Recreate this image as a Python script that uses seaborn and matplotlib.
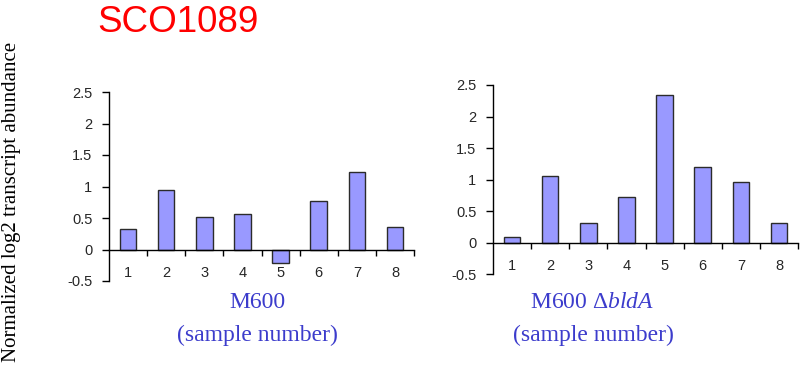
import matplotlib
matplotlib.use("Agg")
import matplotlib.pyplot as plt
import seaborn as sns
import pandas as pd

# Expression data for SCO1089
samples = ["1", "2", "3", "4", "5", "6", "7", "8"]
m600_values = [0.33, 0.95, 0.51, 0.56, -0.22, 0.77, 1.23, 0.35]
bldA_values = [0.09, 1.06, 0.32, 0.72, 2.34, 1.20, 0.96, 0.31]
y_ticks = [-0.5, 0, 0.5, 1, 1.5, 2, 2.5]
y_tick_labels = ["-0.5", "0", "0.5", "1", "1.5", "2", "2.5"]

sns.set_style("white")
plt.rcParams["font.family"] = ["Liberation Sans", "DejaVu Sans"]
plt.rcParams["mathtext.fontset"] = "custom"
plt.rcParams["mathtext.rm"] = "Liberation Serif"
plt.rcParams["mathtext.it"] = "Liberation Serif:italic"

BAR = "#9999ff"
EDGE = "#2b2b2b"
LABEL_BLUE = "#3c3ccc"

fig = plt.figure(figsize=(8.05, 3.70), dpi=100)
ax1 = fig.add_axes([109 / 805, 89 / 370, 305 / 805, 189 / 370])
ax2 = fig.add_axes([493 / 805, 95.7 / 370, 305 / 805, 189.3 / 370])


def draw_panel(ax, values):
    df = pd.DataFrame({"sample": samples, "value": values})
    sns.barplot(data=df, x="sample", y="value", ax=ax, color=BAR,
                edgecolor=EDGE, linewidth=1.0, width=0.43, saturation=1)
    ax.set_xlim(-0.5, len(samples) - 0.5)
    ax.set_ylim(-0.5, 2.5)
    ax.set_yticks(y_ticks)
    ax.set_yticklabels(y_tick_labels, fontsize=10.5)
    ax.set_xlabel("")
    ax.set_ylabel("")
    for s in ("top", "right"):
        ax.spines[s].set_visible(False)
    ax.spines["bottom"].set_position(("data", 0))
    ax.spines["left"].set_color("black")
    ax.spines["bottom"].set_color("black")
    ax.spines["left"].set_linewidth(1.0)
    ax.spines["bottom"].set_linewidth(1.0)
    # boundary tick marks between categories
    ax.set_xticks([i + 0.5 for i in range(len(samples))], minor=True)
    ax.tick_params(axis="x", which="minor", direction="out", length=4,
                   width=1, color="black", bottom=True)
    ax.tick_params(axis="x", which="major", length=0, pad=12, labelsize=10.5)
    ax.tick_params(axis="y", which="major", direction="out", length=5,
                   width=1, color="black", left=True, pad=7)
    ax.set_facecolor("white")


draw_panel(ax1, m600_values)
draw_panel(ax2, bldA_values)

fig.text(178 / 805, 1 - 22 / 370, "SCO1089", color="#ff0000", fontsize=26.5,
         ha="center", va="center", family=["Liberation Sans", "DejaVu Sans"])

serif = ["Liberation Serif", "DejaVu Serif"]
fig.text(12 / 805, 1 - 202 / 370, "Normalized log2 transcript abundance",
         rotation=90, ha="center", va="center", fontsize=15, family=serif,
         color="black")

fig.text(257 / 805, 1 - 302 / 370, "M600", ha="center", va="center",
         fontsize=17, family=serif, color=LABEL_BLUE)
fig.text(257 / 805, 1 - 335 / 370, "(sample number)", ha="center",
         va="center", fontsize=17, family=serif, color=LABEL_BLUE)
fig.text(592 / 805, 1 - 302 / 370, r"M600 $\Delta\mathit{bldA}$",
         ha="center", va="center", fontsize=17, family=serif,
         color=LABEL_BLUE)
fig.text(593 / 805, 1 - 335 / 370, "(sample number)", ha="center",
         va="center", fontsize=17, family=serif, color=LABEL_BLUE)

fig.savefig("out.png", dpi=100, facecolor="white")
